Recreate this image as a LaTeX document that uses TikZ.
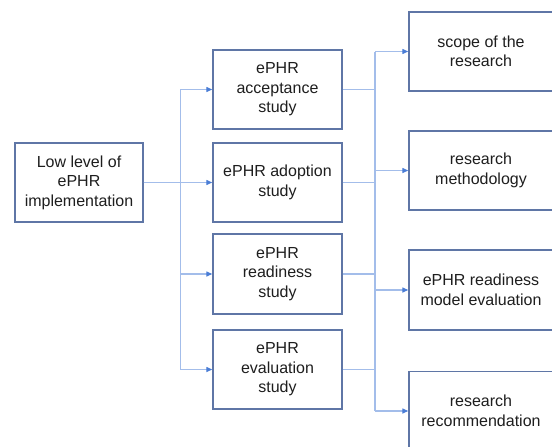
\documentclass[tikz,border=0pt]{standalone}
\usepackage{fontspec}
\setmainfont{Liberation Sans}
\usetikzlibrary{arrows.meta}
\definecolor{boxc}{HTML}{5F76A6}
\definecolor{linec}{HTML}{A3BDEA}
\definecolor{arrc}{HTML}{4A7DD6}
\definecolor{txtc}{HTML}{1E1E1E}
\begin{document}
\begin{tikzpicture}[x=1pt,y=-1pt,
  box/.style={draw=boxc,line width=1.4pt,fill=white,inner sep=0pt,align=center,
     font=\fontsize{16}{19.5}\selectfont,text=txtc},
  conn/.style={draw=linec,line width=1.3pt},
  arr/.style={conn,-{Triangle[length=6pt,width=5pt,fill=arrc,color=arrc]}}]
\useasboundingbox (0,0) rectangle (552,447);
\begin{scope}
\clip (0,0) rectangle (552,447);
% left
\node[box,minimum width=128pt,minimum height=79pt] (low) at (79,182.5) {Low level of\\ePHR\\implementation};
% middle
\node[box,minimum width=129pt,minimum height=79pt] (acc) at (277.5,89.5) {ePHR\\acceptance\\study};
\node[box,minimum width=129pt,minimum height=79pt] (ado) at (277.5,182.5) {ePHR adoption\\study};
\node[box,minimum width=129pt,minimum height=80pt] (rea) at (277.5,274) {ePHR\\readiness\\study};
\node[box,minimum width=129pt,minimum height=79pt] (eva) at (277.5,369.5) {ePHR\\evaluation\\study};
% right
\node[box,minimum width=144pt,minimum height=79pt] (sco) at (481,51.5) {scope of the\\research};
\node[box,minimum width=144pt,minimum height=79pt] (met) at (481,170.5) {research\\methodology};
\node[box,minimum width=144pt,minimum height=80pt] (mod) at (481,290) {ePHR readiness\\model evaluation};
\node[box,minimum width=144pt,minimum height=79pt] (rec) at (481,411) {research\\recommendation};
% left bus
\draw[arr] (low.east) -- (ado.west);
\draw[arr] (low.east) -- ++(37,0) |- (acc.west);
\draw[arr] (low.east) -- ++(37,0) |- (rea.west);
\draw[arr] (low.east) -- ++(37,0) |- (eva.west);
% right bus
\coordinate (bt) at (375,51.5);
\coordinate (bb) at (375,411);
\draw[conn] (bt) -- (bb);
\draw[conn] (acc.east) -- (acc.east -| bt);
\draw[conn] (ado.east) -- (ado.east -| bt);
\draw[conn] (rea.east) -- (rea.east -| bt);
\draw[conn] (eva.east) -- (eva.east -| bt);
\draw[arr] (bt) -- (sco.west);
\draw[arr] (met.west -| bt) -- (met.west);
\draw[arr] (mod.west -| bt) -- (mod.west);
\draw[arr] (bb) -- (rec.west);
\end{scope}
\end{tikzpicture}
\end{document}
